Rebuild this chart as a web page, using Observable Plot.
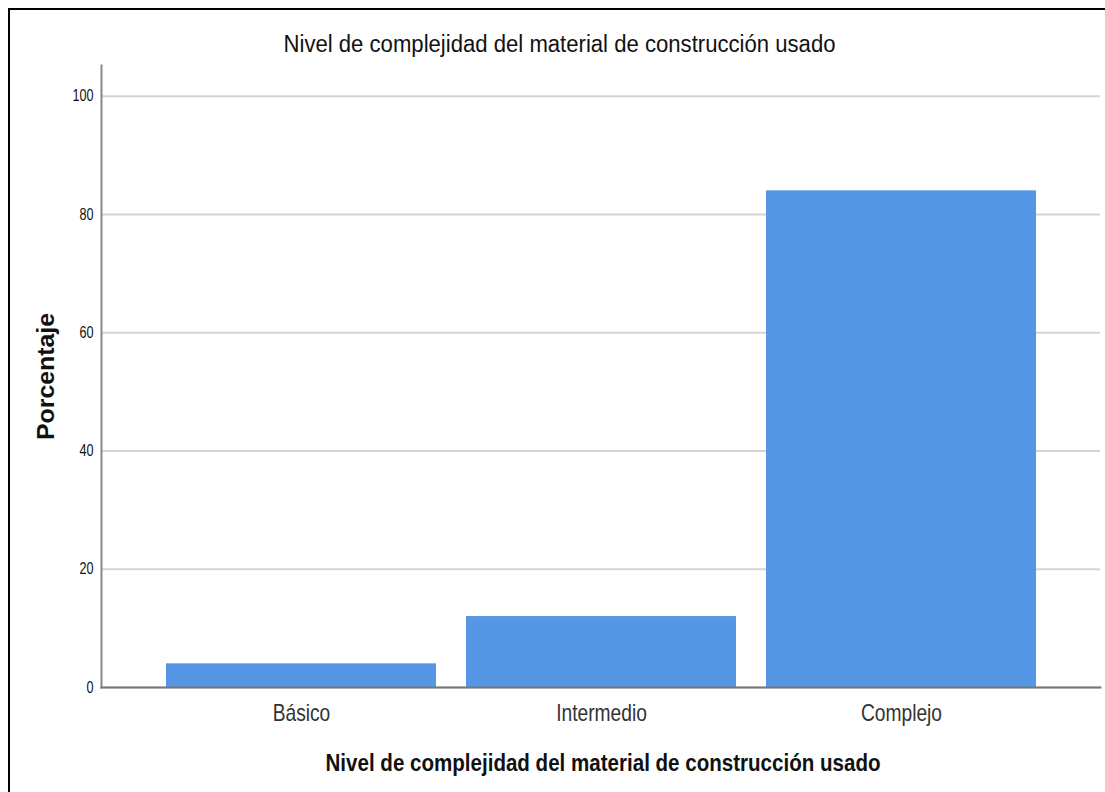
<!DOCTYPE html>
<html>
<head>
<meta charset="utf-8">
<script src="https://cdn.jsdelivr.net/npm/d3@7"></script>
<script src="https://cdn.jsdelivr.net/npm/@observablehq/plot@0.6"></script>
<style>
  html, body { margin: 0; padding: 0; background: #fff; }
  #wrap { position: relative; width: 1105px; height: 792px; overflow: hidden; }
  #border { position: absolute; left: 8px; top: 8px; width: 1200px; height: 900px; border-left: 2px solid #000; border-top: 2px solid #000; pointer-events: none; }
</style>
</head>
<body>
<div id="wrap"><div id="border"></div></div>
<script>
const categories = ["Básico", "Intermedio", "Complejo"];
const values = [4, 12, 84];
const yTicks = [0, 20, 40, 60, 80, 100];
const title = "Nivel de complejidad del material de construcción usado";
const xLabel = "Nivel de complejidad del material de construcción usado";
const yLabel = "Porcentaje";

const data = categories.map((c, i) => ({category: c, value: values[i]}));

const chart = Plot.plot({
  width: 1105,
  height: 792,
  marginLeft: 101,
  marginRight: 5,
  marginTop: 65,
  marginBottom: 105,
  style: {fontFamily: "'Liberation Sans', Arial, sans-serif", background: "#fff"},
  x: {domain: categories, paddingInner: 0.1, paddingOuter: 0.215, label: null},
  y: {domain: [0, 105.2], label: null},
  marks: [
    Plot.gridY(yTicks, {stroke: "#d4d4d4", strokeOpacity: 1, strokeWidth: 2}),
    Plot.barY(data, {x: "category", y: "value", fill: "#5596e5"}),
    Plot.frame({anchor: "left", stroke: "#888", strokeWidth: 2}),
    Plot.frame({anchor: "bottom", stroke: "#777", strokeWidth: 2}),
    Plot.axisY(yTicks, {tickSize: 0, tickPadding: 8, fontSize: 16, fill: "#111", label: null, className: "yt"}),
    Plot.axisX({tickSize: 0, tickPadding: 16, fontSize: 24, fill: "#333", label: null, className: "xt"}),
    Plot.text([title], {frameAnchor: "top", lineAnchor: "middle", textAnchor: "middle", dx: -41.5, dy: -20.4, fontSize: 23, fill: "#111", text: d => d, className: "ttl"}),
    Plot.text([xLabel], {frameAnchor: "bottom", lineAnchor: "middle", textAnchor: "middle", dx: 2, dy: 76.6, fontSize: 23, fontWeight: "bold", fill: "#111", text: d => d, className: "xlab"}),
    Plot.text([yLabel], {frameAnchor: "left", lineAnchor: "middle", textAnchor: "middle", dx: -55.4, rotate: -90, fontSize: 24, fontWeight: "bold", fill: "#111", text: d => d, className: "ylab"})
  ]
});
const svg = d3.select(chart);
svg.selectAll(".ttl text").attr("textLength", 552).attr("lengthAdjust", "spacingAndGlyphs");
svg.selectAll(".xlab text").attr("textLength", 555).attr("lengthAdjust", "spacingAndGlyphs");
svg.selectAll(".ylab text").attr("textLength", 127).attr("lengthAdjust", "spacingAndGlyphs");
function squeeze(sel, s) {
  sel.each(function() {
    const t = this.getAttribute("transform");
    if (t) {
      this.setAttribute("transform", t + ` scale(${s},1)`);
    } else {
      const x = +this.getAttribute("x") || 0, y = +this.getAttribute("y") || 0;
      this.setAttribute("x", 0); this.setAttribute("y", 0);
      this.setAttribute("transform", `translate(${x},${y}) scale(${s},1)`);
    }
  });
}
squeeze(svg.selectAll(".xt text"), 0.8);
squeeze(svg.selectAll(".yt text"), 0.79);
document.getElementById("wrap").prepend(chart);
</script>
</body>
</html>
